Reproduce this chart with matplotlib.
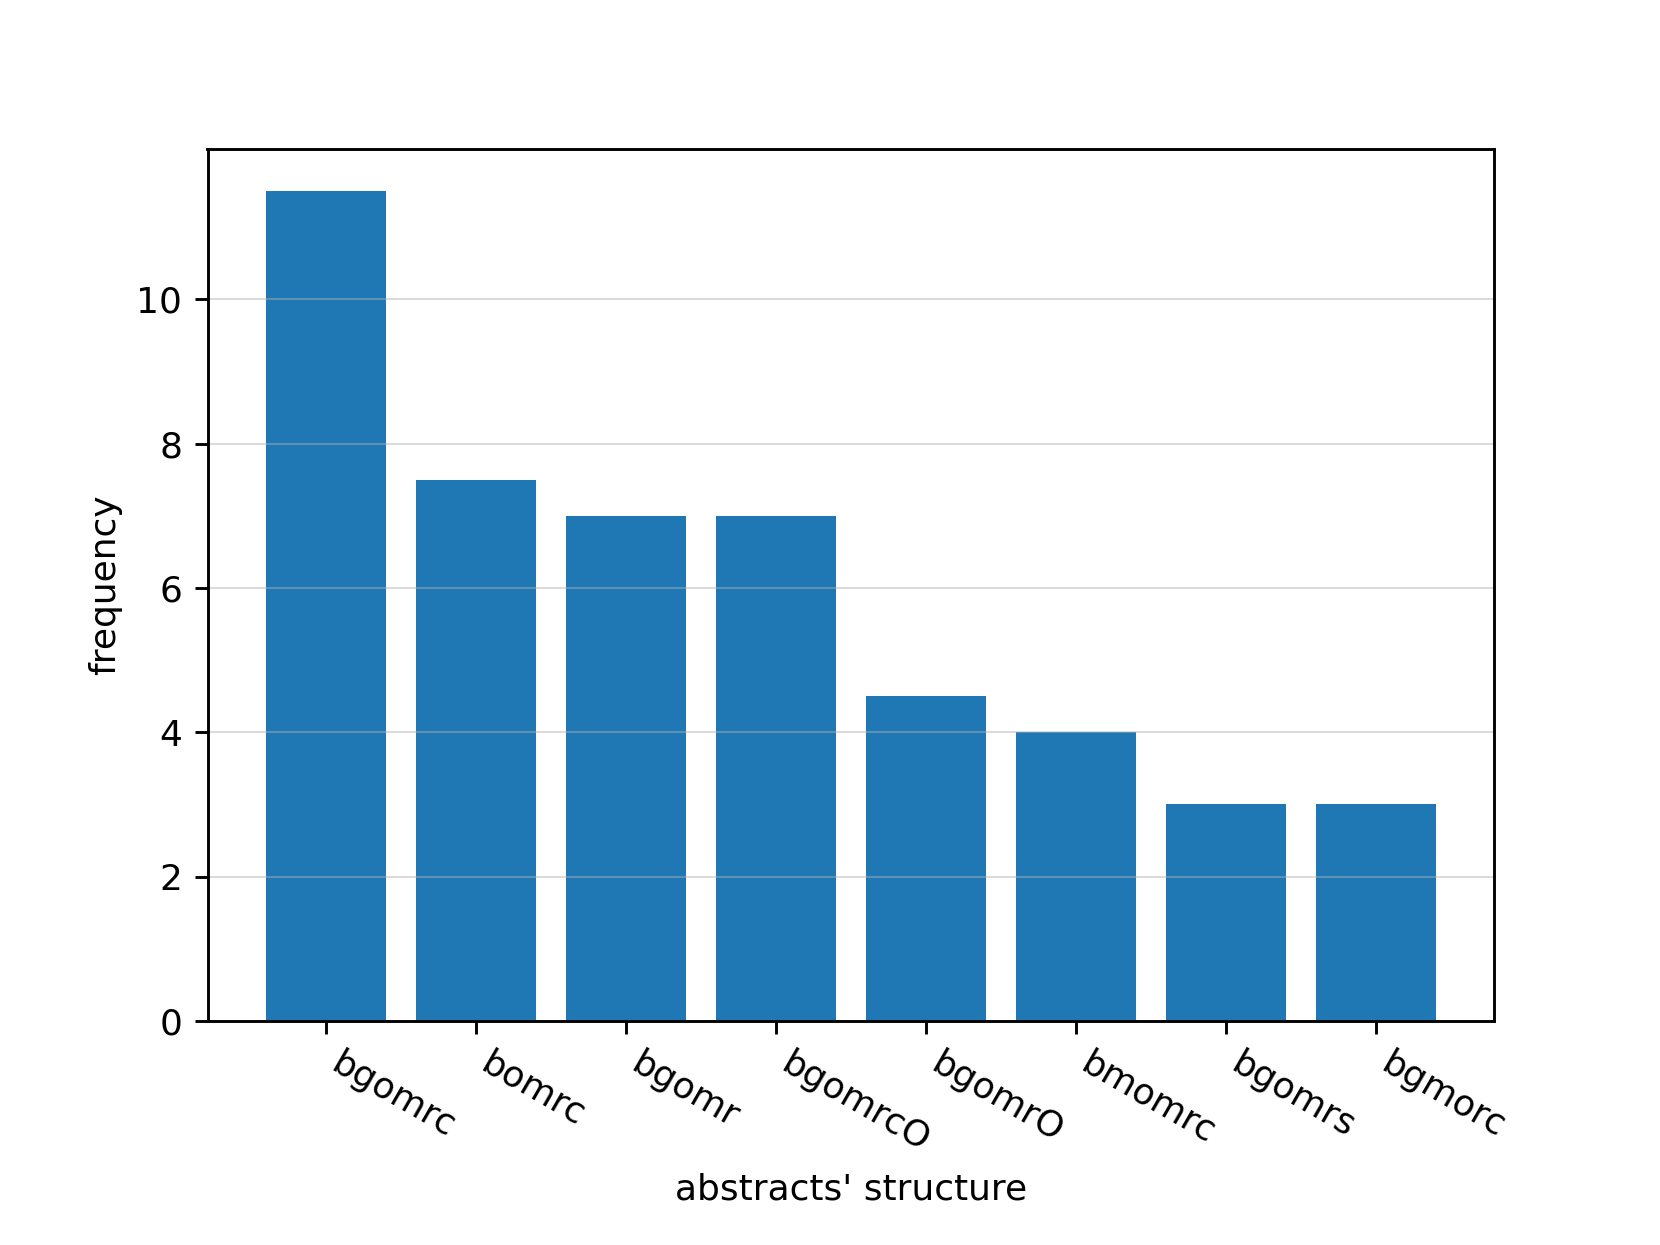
import matplotlib
matplotlib.use("Agg")
import matplotlib.pyplot as plt

structures = ["bgomrc", "bomrc", "bgomr", "bgomrcO", "bgomrO", "bmomrc", "bgomrs", "bgmorc"]
frequency = [11.5, 7.5, 7, 7, 4.5, 4, 3, 3]
yticks = [0, 2, 4, 6, 8, 10]


fig, ax = plt.subplots(figsize=(6.4, 4.8), dpi=259.375)
fig.subplots_adjust(bottom=0.18)
ax.bar(structures, frequency, color="#1f77b4")
ax.set_yticks(yticks)
ax.grid(axis="y", alpha=0.5, linewidth=0.5)
plt.setp(ax.get_xticklabels(), rotation=-30, ha="left")
ax.set_xlabel("abstracts' structure")
ax.set_ylabel("frequency")
fig.savefig("out.png", dpi=259.375)
